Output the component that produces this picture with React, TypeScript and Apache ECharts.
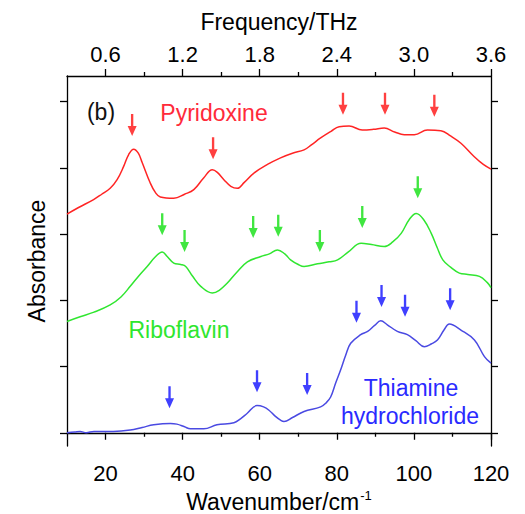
import React, { useEffect, useRef } from "react";
import * as echarts from "echarts";

const wnMajor = [20, 40, 60, 80, 100, 120];
const wnMinor = [30, 50, 70, 90, 110];
const yTicks = [0, 1, 2, 3, 4, 5];
const thzPerWn = 0.03;

const pyridoxine: number[][] = [
  [10, 3.3], [13, 3.4], [16.9, 3.52], [19, 3.6], [21.2, 3.69], [23, 3.82], [24.7, 4.02], [26, 4.2], [27.3, 4.28],
  [28.5, 4.22], [29.5, 4.08], [31.6, 3.77], [33, 3.62], [34.2, 3.56], [37.7, 3.54], [40.5, 3.6], [42.9, 3.67],
  [45.5, 3.85], [47.7, 3.97], [49, 3.93], [50.7, 3.82], [52.5, 3.72], [54.2, 3.69], [56, 3.78], [58.5, 3.92],
  [62, 4.05], [65.4, 4.15], [68.5, 4.22], [71.5, 4.27], [73.5, 4.35], [75.8, 4.45], [78.5, 4.55], [80.6, 4.62],
  [83.2, 4.63], [86.6, 4.57], [89.5, 4.58], [92.3, 4.6], [95, 4.54], [97.5, 4.5], [100.1, 4.5], [103.5, 4.57],
  [107, 4.56], [109.5, 4.48], [112.2, 4.37], [115.6, 4.17], [118, 4.05], [120, 3.98],
];

const riboflavin: number[][] = [
  [10, 1.68], [13.4, 1.75], [17, 1.82], [21.2, 1.93], [24, 2.05], [26.4, 2.21], [28.5, 2.36], [30.8, 2.51],
  [33, 2.66], [34.7, 2.73], [36, 2.66], [37.7, 2.56], [39.5, 2.54], [40.8, 2.51], [42.5, 2.37], [44.7, 2.21],
  [47.7, 2.11], [49.5, 2.15], [51.6, 2.26], [54, 2.42], [56.8, 2.58], [60.3, 2.66], [62.5, 2.7], [64.6, 2.76],
  [66.5, 2.7], [68, 2.61], [70, 2.54], [71.5, 2.51], [75, 2.55], [78, 2.58], [80.2, 2.61], [83, 2.73],
  [86.3, 2.86], [89, 2.84], [92.3, 2.81], [94.5, 2.88], [96.7, 3.01], [98.8, 3.22], [100.6, 3.31], [102.5, 3.22],
  [104.5, 3.01], [106, 2.8], [107.5, 2.61], [109.5, 2.5], [111.8, 2.41], [114, 2.39], [117, 2.36], [119, 2.27],
  [120, 2.19],
];

const thiamine: number[][] = [
  [10, 0.0], [12, 0.01], [13.4, 0.02], [15, 0.0], [17, 0.02], [19.5, 0.02], [22, 0.02], [26.4, 0.04],
  [29.5, 0.08], [32.5, 0.12], [36.8, 0.14], [38.5, 0.13], [40.5, 0.09], [42, 0.06], [45.5, 0.06], [48.9, 0.12],
  [53.3, 0.15], [55, 0.21], [56.7, 0.29], [59.3, 0.41], [61, 0.39], [62.4, 0.34], [64, 0.25], [65.4, 0.19],
  [66.3, 0.17], [68.5, 0.23], [71.5, 0.32], [75.8, 0.39], [77.2, 0.45], [78.4, 0.54], [79.7, 0.75], [81, 0.95],
  [82.3, 1.17], [83.6, 1.35], [86.2, 1.48], [88, 1.53], [89.8, 1.62], [91.4, 1.69], [93.1, 1.63], [95.7, 1.53],
  [98.3, 1.48], [100.5, 1.39], [102.7, 1.3], [104.5, 1.34], [106.1, 1.4], [107.8, 1.55], [109.2, 1.64],
  [112.2, 1.55], [115.7, 1.4], [118.3, 1.15], [120, 1.05],
];

const pyridoxineArrows: number[][] = [[26.9, 4.48], [47.9, 4.13], [81.6, 4.8], [92.5, 4.8], [105.3, 4.77]];
const riboflavinArrows: number[][] = [[34.7, 2.98], [40.5, 2.73], [58.3, 2.94], [64.8, 2.96], [75.6, 2.73], [86.6, 3.09], [101, 3.54]];
const thiamineArrows: number[][] = [[36.6, 0.37], [59.3, 0.61], [72.3, 0.57], [85.1, 1.66], [91.6, 1.9], [97.7, 1.75], [109.4, 1.85]];

const FONT = "'Liberation Sans', Arial, Helvetica, sans-serif";
const ARROW = "path://M3.7,0 L6.3,0 L6.3,12 L10,12 L5,22 L0,12 L3.7,12 Z";

export default function App() {
  const ref = useRef<HTMLDivElement>(null);
  useEffect(() => {
    if (!ref.current) return;
    const chart = echarts.init(ref.current, undefined, { renderer: "svg" });
    const frameLine = { show: true, lineStyle: { color: "#000", width: 1.3 } };
    const majorX = (pos: "top" | "bottom", extra: any) => ({
      type: "value", position: pos, min: 10, max: 120,
      axisLine: frameLine,
      axisTick: { show: true, inside: false, length: 7, customValues: wnMajor, lineStyle: { color: "#000", width: 1.3 } },
      splitLine: { show: false },
      ...extra,
    });
    const minorX = (pos: "top" | "bottom") => ({
      type: "value", position: pos, min: 10, max: 120,
      axisLine: { show: false },
      axisTick: { show: true, inside: false, length: 4, customValues: wnMinor, lineStyle: { color: "#000", width: 1.3 } },
      axisLabel: { show: false },
      splitLine: { show: false },
    });
    const yAx = (pos: "left" | "right", extra: any) => ({
      type: "value", position: pos, min: -0.2, max: 5.385,
      axisLine: frameLine,
      axisTick: { show: true, inside: false, length: 7, customValues: yTicks, lineStyle: { color: "#000", width: 1.3 } },
      axisLabel: { show: false },
      splitLine: { show: false },
      ...extra,
    });
    const lineSeries = (name: string, data: number[][], color: string) => ({
      name, type: "line", data, xAxisIndex: 0, yAxisIndex: 0, smooth: 0.4, showSymbol: false,
      lineStyle: { color, width: 1.5 }, silent: true,
    });
    const arrowSeries = (data: number[][], color: string) => ({
      type: "scatter", data, xAxisIndex: 0, yAxisIndex: 0, symbol: ARROW, symbolSize: [9, 22],
      symbolOffset: [0, "-50%"], itemStyle: { color }, silent: true,
    });
    const txt = (text: string, x: number, y: number, color: string) => ({
      type: "text", x, y,
      style: { text, fill: color, font: `23px ${FONT}`, align: "center", verticalAlign: "middle" },
    });
    chart.setOption({
      animation: false,
      backgroundColor: "#fff",
      grid: { left: 67, right: 34, top: 76, bottom: 68, containLabel: false, outerBoundsMode: "none" },
      xAxis: [
        majorX("bottom", {
          axisLabel: { show: true, customValues: wnMajor, margin: 16, fontSize: 22, color: "#000", fontFamily: FONT },
          name: "{m|Wavenumber/cm}{s|-1}", nameLocation: "middle", nameGap: 41,
          nameTextStyle: {
            rich: {
              m: { fontSize: 23, fontFamily: FONT, color: "#000", verticalAlign: "bottom" },
              s: { fontSize: 13, fontFamily: FONT, color: "#000", verticalAlign: "top", padding: [0, 0, 12, 1] },
            },
          },
        }),
        minorX("bottom"),
        majorX("top", {
          axisLabel: {
            show: true, customValues: wnMajor, margin: 11, fontSize: 22, color: "#000", fontFamily: FONT,
            formatter: (v: number) => (v * thzPerWn).toFixed(1),
          },
          name: "Frequency/THz", nameLocation: "middle", nameGap: 43,
          nameTextStyle: { fontSize: 23, fontFamily: FONT, color: "#000" },
        }),
        minorX("top"),
      ],
      yAxis: [
        yAx("left", {
          name: "Absorbance", nameLocation: "middle", nameGap: 19, nameRotate: 90,
          nameTextStyle: { fontSize: 23, fontFamily: FONT, color: "#000" },
        }),
        yAx("right", {}),
      ],
      series: [
        lineSeries("Pyridoxine", pyridoxine, "#ff2424"),
        lineSeries("Riboflavin", riboflavin, "#30e630"),
        lineSeries("Thiamine hydrochloride", thiamine, "#4a4ae2"),
        arrowSeries(pyridoxineArrows, "#ff1010"),
        arrowSeries(riboflavinArrows, "#10e010"),
        arrowSeries(thiamineArrows, "#1010ff"),
      ],
      graphic: [
        txt("(b)", 101, 112, "#111"),
        txt("Pyridoxine", 214, 113, "#ff2a3a"),
        txt("Riboflavin", 179, 330, "#2ee62e"),
        txt("Thiamine", 411, 388, "#2a2aff"),
        txt("hydrochloride", 410, 416, "#2a2aff"),
      ],
    });
    return () => chart.dispose();
  }, []);
  return (
    <div
      ref={ref}
      style={{ position: "fixed", left: 0, top: 0, width: 525, height: 514, background: "#fff" }}
    />
  );
}
